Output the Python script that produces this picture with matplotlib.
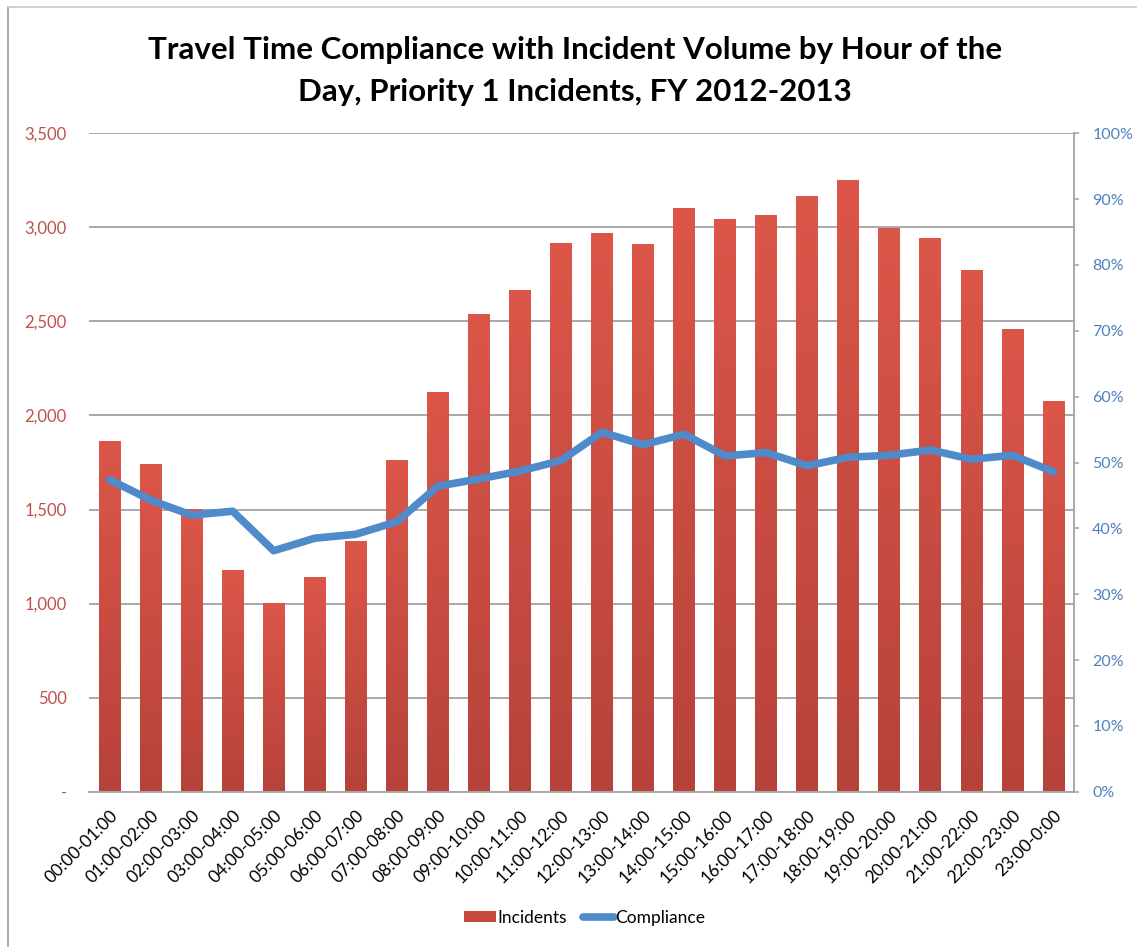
import numpy as np
import matplotlib
matplotlib.use("Agg")
import matplotlib.pyplot as plt
from matplotlib.colors import LinearSegmentedColormap
from matplotlib.lines import Line2D
from matplotlib.patches import Patch
from matplotlib.ticker import FixedLocator, FuncFormatter, PercentFormatter

# ---- data -------------------------------------------------------------
hours = [
    "00:00-01:00", "01:00-02:00", "02:00-03:00", "03:00-04:00", "04:00-05:00",
    "05:00-06:00", "06:00-07:00", "07:00-08:00", "08:00-09:00", "09:00-10:00",
    "10:00-11:00", "11:00-12:00", "12:00-13:00", "13:00-14:00", "14:00-15:00",
    "15:00-16:00", "16:00-17:00", "17:00-18:00", "18:00-19:00", "19:00-20:00",
    "20:00-21:00", "21:00-22:00", "22:00-23:00", "23:00-0:00",
]
incidents = [1865, 1740, 1500, 1180, 1000, 1140, 1330, 1760, 2125, 2540,
             2665, 2915, 2970, 2910, 3100, 3045, 3065, 3165, 3250, 2995,
             2945, 2770, 2460, 2075]
compliance = [0.474, 0.443, 0.420, 0.426, 0.366, 0.385, 0.391, 0.410, 0.464, 0.475,
              0.487, 0.503, 0.546, 0.527, 0.543, 0.510, 0.515, 0.495, 0.508, 0.511,
              0.519, 0.505, 0.511, 0.486]
left_ticks = [0, 500, 1000, 1500, 2000, 2500, 3000, 3500]
right_ticks = [0, 0.1, 0.2, 0.3, 0.4, 0.5, 0.6, 0.7, 0.8, 0.9, 1.0]

# ---- style ------------------------------------------------------------
FONT = "Lato"
plt.rcParams["font.family"] = [FONT, "DejaVu Sans"]
RED_TOP, RED_BOTTOM = "#DC5649", "#B6423A"
BLUE = "#4F8BCB"
GRID = "#A8A8A8"
LEFT_LABEL = "#C0504D"
RIGHT_LABEL = "#4F81BD"

W, H = 1137, 947
fig = plt.figure(figsize=(W / 100, H / 100), dpi=100)
fig.patch.set_facecolor("white")

ax = fig.add_axes([89 / W, 1 - 791.7 / H, (1074 - 89) / W, (791.7 - 133.3) / H])
x = np.arange(len(hours))

# bars, filled with a vertical gradient
bars = ax.bar(x, incidents, width=0.53, color="none", edgecolor="none", zorder=2)
cmap = LinearSegmentedColormap.from_list("bar_grad", [RED_BOTTOM, RED_TOP])
grad = np.linspace(0, 1, 256).reshape(-1, 1)
for b in bars:
    x0, w, h = b.get_x(), b.get_width(), b.get_height()
    ax.imshow(grad, extent=[x0, x0 + w, 0, h], origin="lower", aspect="auto",
              cmap=cmap, zorder=2, interpolation="bicubic")

ax.set_xlim(-0.5, len(hours) - 0.5)
ax.set_ylim(0, 3500)
ax.yaxis.set_major_locator(FixedLocator(left_ticks))
ax.yaxis.set_major_formatter(FuncFormatter(lambda v, p: "-" if v == 0 else f"{int(v):,}"))
ax.yaxis.grid(True, color=GRID, lw=1.4)
ax.set_axisbelow(True)
for s in ("top", "left", "right"):
    ax.spines[s].set_visible(False)
ax.spines["bottom"].set_color(GRID)
ax.spines["bottom"].set_linewidth(1.4)
ax.tick_params(axis="y", length=0, pad=16, labelsize=12, labelcolor=LEFT_LABEL)
ax.set_xticks(x)
ax.set_xticklabels(hours, rotation=45, ha="right", rotation_mode="anchor")
ax.tick_params(axis="x", length=0, pad=11, labelsize=12.5, labelcolor="black")

# compliance line on secondary axis
ax2 = ax.twinx()
ax2.plot(x, compliance, color=BLUE, lw=5.5, solid_joinstyle="round",
         solid_capstyle="round", zorder=3)
ax2.set_ylim(0, 1)
ax2.yaxis.set_major_locator(FixedLocator(right_ticks))
ax2.yaxis.set_major_formatter(PercentFormatter(1.0, decimals=0))
for s in ("top", "left", "bottom"):
    ax2.spines[s].set_visible(False)
ax2.spines["right"].set_color(GRID)
ax2.spines["right"].set_linewidth(1.4)
ax2.tick_params(axis="y", direction="out", length=3.6, width=1.2, color=GRID,
                pad=9.5, labelsize=11.5, labelcolor=RIGHT_LABEL)

# title
fig.text(575 / W, 1 - 50 / H, "Travel Time Compliance with Incident Volume by Hour of the",
         ha="center", va="center", fontsize=22.5, fontweight="bold")
fig.text(575 / W, 1 - 92 / H, "Day, Priority 1 Incidents, FY 2012-2013",
         ha="center", va="center", fontsize=22.5, fontweight="bold")

# legend
handles = [Patch(facecolor="#C8483F", edgecolor="none"),
           Line2D([], [], color=BLUE, lw=5.5, solid_capstyle="round")]
fig.legend(handles, ["Incidents", "Compliance"], loc="center",
           bbox_to_anchor=(585 / W, 1 - 918 / H), ncol=2, frameon=False,
           fontsize=12.5, handlelength=1.8, handleheight=0.6,
           handletextpad=0.1, columnspacing=0.9)

# chart frame edges
fig.add_artist(Line2D([8 / W, 8 / W], [0, 1 - 7 / H], transform=fig.transFigure,
                      color="#A0A0A0", lw=1.2))
fig.add_artist(Line2D([8 / W, 1], [1 - 7 / H, 1 - 7 / H], transform=fig.transFigure,
                      color="#C8C8C8", lw=1.2))

fig.savefig("out.png", dpi=100)
